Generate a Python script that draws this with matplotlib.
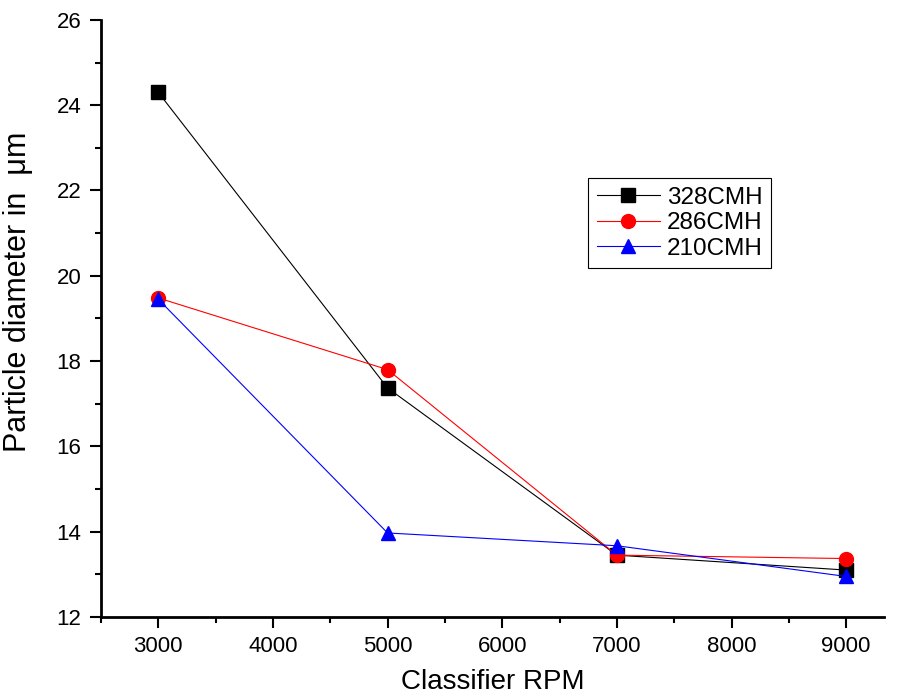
import matplotlib
matplotlib.use('Agg')
from matplotlib import pyplot as plt
from matplotlib.ticker import MultipleLocator

plt.rcParams['font.family'] = ['Liberation Sans', 'DejaVu Sans']

# data
rpm = [3000, 5000, 7000, 9000]
d_328 = [24.3, 17.37, 13.45, 13.1]
d_286 = [19.48, 17.8, 13.45, 13.37]
d_210 = [19.45, 13.97, 13.67, 12.95]


def run():
    fig = plt.figure(figsize=(8.99, 7.0), dpi=100)
    ax = fig.add_axes([0.1123, 0.1186, 0.871, 0.853])

    ax.plot(rpm, d_328, color='black', linewidth=0.8, marker='s', markersize=9.5, label='328CMH')
    ax.plot(rpm, d_286, color='red', linewidth=0.8, marker='o', markersize=10, label='286CMH')
    ax.plot(rpm, d_210, color='blue', linewidth=0.8, marker='^', markersize=10.5, label='210CMH')

    ax.set_xlim(2500, 9330)
    ax.set_ylim(12, 26)
    ax.xaxis.set_major_locator(MultipleLocator(1000))
    ax.xaxis.set_minor_locator(MultipleLocator(500))
    ax.yaxis.set_major_locator(MultipleLocator(2))
    ax.yaxis.set_minor_locator(MultipleLocator(1))
    ax.set_xticks([3000, 4000, 5000, 6000, 7000, 8000, 9000])

    for side in ['top', 'right']:
        ax.spines[side].set_visible(False)
    for side in ['left', 'bottom']:
        ax.spines[side].set_linewidth(2)

    ax.tick_params(which='major', direction='out', length=8, width=1.5, labelsize=16, pad=6)
    ax.tick_params(which='minor', direction='out', length=4, width=1.5)

    ax.set_xlabel('Classifier RPM', fontsize=20, labelpad=8)
    ax.set_ylabel('Particle diameter in  \u03bcm', fontsize=22)
    ax.yaxis.set_label_coords(-0.087, 0.544)

    leg = ax.legend(loc='upper left', bbox_to_anchor=(0.622, 0.735), borderaxespad=0,
                    fontsize=17.5, fancybox=False, edgecolor='black', framealpha=1,
                    handlelength=2.6, borderpad=0.35, labelspacing=0.15, handletextpad=0.3)
    leg.get_frame().set_linewidth(0.8)

    fig.savefig('out.png', dpi=100)


if __name__ == '__main__':
    run()
